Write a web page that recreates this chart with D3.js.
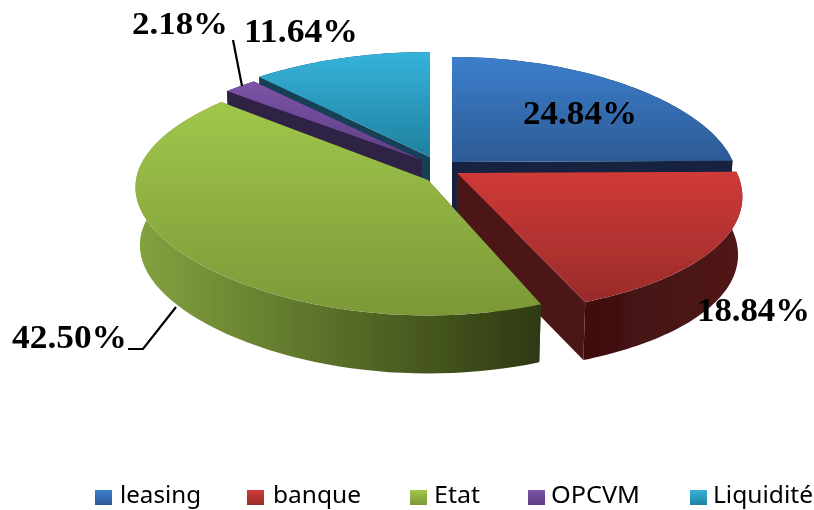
<!DOCTYPE html>
<html><head><meta charset="utf-8">
<script src="https://cdn.jsdelivr.net/npm/d3@7"></script>
<style>html,body{margin:0;padding:0;background:#fff;overflow:hidden}svg{display:block}</style>
</head><body><svg id="c" width="814" height="510"></svg>
<script>
const categories = ["leasing","banque","Etat","OPCVM","Liquidité"];
const values = [24.84,18.84,42.50,2.18,11.64];
const valueLabels = ["24.84%","18.84%","42.50%","2.18%","11.64%"];

// drawing styles and projection of each exploded slice
const shapes = [
 {cx:452,cy:162,a:281,b:120,ky:.125,k1:.18,k2:0},
 {cx:457,cy:173,a:280,b:125,ky:.13,k1:.2,k2:0},
 {cx:428,cy:180,a:292,b:126.5,ky:.071,k1:.0655,k2:-.0712},
 {cx:422,cy:160,a:281,b:114,ky:.1,k1:.14,k2:0},
 {cx:430,cy:157,a:281,b:114.8,ky:.085,k1:.12,k2:0}];
const tops = [["#3c7ecb","#2c5b96"],["#cf3a37","#992b2a"],["#a0c74b","#7c9838"],["#7c54a8","#5e3e84"],["#35b3da","#21809f"]];
const rims = [["#12233f","#12233f"],["#3f0f0f","#521819"],["#83a33f","#2e3912"],["#2f2045","#2f2045"],["#124055","#124055"]];
const walls = ["#12233f","#4e1716","#3a4a18","#2f2045","#124055"];
const labelStyle = [
 {x:523,y:124,w:114,fs:33},{x:697,y:321,w:113,fs:33},{x:12,y:348,w:115,fs:33},
 {x:132,y:34,w:96,fs:32},{x:244,y:42,w:114,fs:33}];
const legendSwatch = [95,247,410,528,690];
const legendText = [120,273,434,551,713];
const legendWidth = [81,88,46,89,100];
const leaders = [[[233,40],[242,86]],[[128,349],[143,349],[176,307]]];
const depth = 58, bottomScale = .985;

const svg = d3.select("#c");
const defs = svg.append("defs");
const pie = d3.pie().sort(null)(values);

defs.append("filter").attr("id","soft").attr("x",0).attr("y",0)
  .attr("filterUnits","userSpaceOnUse").attr("primitiveUnits","userSpaceOnUse")
  .attr("width",814).attr("height",510)
  .append("feGaussianBlur").attr("stdDeviation",.5);
const root = svg.append("g").attr("filter","url(#soft)");

function grad(id,cols,horizontal){
  const g = defs.append("linearGradient").attr("id",id)
    .attr("x1",0).attr("y1",0).attr("x2",horizontal?1:0).attr("y2",horizontal?0:1);
  g.selectAll("stop").data(cols).join("stop")
    .attr("offset",(d,i)=>i/(cols.length-1)).attr("stop-color",d=>d);
}
tops.forEach((c,i)=>grad("top"+i,c,false));
rims.forEach((c,i)=>grad("rim"+i,c,true));

function project(s,t,drop){
  const u=Math.sin(t), v=-Math.cos(t), f=drop?bottomScale:1;
  return [s.cx+f*s.a*u*(1+s.k1*v+s.k2*v*v), s.cy+(drop?depth:0)+s.b*v*(1+s.ky*v)];
}
const line = d3.line();
const arcPts = (s,t0,t1,drop)=>d3.range(0,61).map(k=>project(s,t0+(t1-t0)*k/60,drop));

[4,3,0,1,2].forEach(i=>{
  const s=shapes[i], p=pie[i], t0=p.startAngle, t1=p.endAngle;
  const g=root.append("g");
  const apex=[s.cx,s.cy], apexB=[s.cx,s.cy+depth];
  [t0,t1].forEach(t=>{
    g.append("path").attr("fill",walls[i])
      .attr("d",line([apex,project(s,t,false),project(s,t,true),apexB])+"Z");
  });
  g.append("path").attr("fill",`url(#rim${i})`)
    .attr("d",line(arcPts(s,t0,t1,false).concat(arcPts(s,t0,t1,true).reverse()))+"Z");
  g.append("path").attr("fill",`url(#top${i})`)
    .attr("d",line([apex].concat(arcPts(s,t0,t1,false)))+"Z");
});

root.selectAll(".lead").data(leaders).join("path").attr("class","lead")
  .attr("d",d=>line(d)).attr("fill","none").attr("stroke","#000").attr("stroke-width",2.2);

root.selectAll(".val").data(valueLabels).join("text").attr("class","val")
  .attr("x",(d,i)=>labelStyle[i].x).attr("y",(d,i)=>labelStyle[i].y)
  .attr("textLength",(d,i)=>labelStyle[i].w).attr("lengthAdjust","spacingAndGlyphs")
  .attr("font-family","'Liberation Serif',serif").attr("font-weight","bold")
  .attr("font-size",(d,i)=>labelStyle[i].fs).attr("fill","#000").text(d=>d);

const lg=root.selectAll(".lg").data(categories).join("g").attr("class","lg");
lg.append("rect").attr("x",(d,i)=>legendSwatch[i]).attr("y",490).attr("width",17).attr("height",15)
  .attr("fill",(d,i)=>`url(#top${i})`);
lg.append("text").attr("x",(d,i)=>legendText[i]).attr("y",503)
  .attr("textLength",(d,i)=>legendWidth[i]).attr("lengthAdjust","spacingAndGlyphs")
  .attr("font-family","'Noto Sans',sans-serif").attr("font-size",23).attr("fill","#000").text(d=>d);
</script></body></html>
